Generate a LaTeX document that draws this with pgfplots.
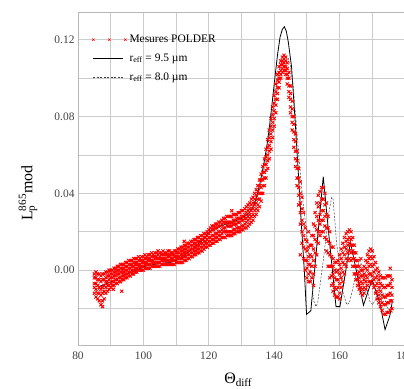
\documentclass[border=0pt]{standalone}
\usepackage{fontspec}
\setmainfont{Liberation Serif}
\usepackage{pgfplots}
\usepackage{pgfplotstable}
\pgfplotsset{compat=1.18}
\pgfplotsset{
  linelegend/.style={legend image code/.code={\draw[##1] (0bp,0bp) -- (30bp,0bp);}},
  threemarks/.style={legend image code/.code={\draw[##1, line width=0.45pt, mark size=1.6pt] plot coordinates {(0bp,0bp) (16bp,0bp) (32bp,0bp)};}},
  polder/.style={only marks, mark=x, mark size=2.2pt, red, line width=0.95pt},
}
\pgfplotstableread{
x y1 y2 y3 y4 y5
85.0 -0.012 -0.009 -0.007 -0.004 -0.002
85.5 -0.014 -0.010 -0.007 -0.004 -0.001
86.0 -0.015 -0.012 -0.008 -0.005 -0.002
86.5 -0.016 -0.012 -0.009 -0.005 -0.002
87.0 -0.018 -0.013 -0.010 -0.006 -0.003
87.5 -0.016 -0.012 -0.009 -0.005 -0.002
88.0 -0.015 -0.011 -0.008 -0.005 -0.002
88.5 -0.012 -0.009 -0.006 -0.004 -0.001
89.0 -0.011 -0.008 -0.006 -0.003 -0.001
89.5 -0.010 -0.008 -0.005 -0.003 0.000
90.0 -0.009 -0.007 -0.004 -0.002 0.000
90.5 -0.008 -0.006 -0.004 -0.002 0.000
91.0 -0.008 -0.006 -0.003 -0.001 0.001
91.5 -0.007 -0.005 -0.003 -0.001 0.001
92.0 -0.007 -0.005 -0.002 0.000 0.002
92.5 -0.006 -0.004 -0.002 0.000 0.002
93.0 -0.006 -0.004 -0.001 0.001 0.003
93.5 -0.005 -0.003 -0.001 0.001 0.003
94.0 -0.005 -0.003 -0.001 0.001 0.003
94.5 -0.004 -0.002 0.000 0.002 0.004
95.0 -0.004 -0.002 0.000 0.002 0.004
95.5 -0.003 -0.001 0.001 0.003 0.005
96.0 -0.003 -0.001 0.001 0.003 0.005
96.5 -0.002 0.000 0.002 0.003 0.005
97.0 -0.002 0.000 0.002 0.004 0.006
97.5 -0.001 0.001 0.003 0.004 0.006
98.0 -0.001 0.001 0.003 0.004 0.006
98.5 0.000 0.002 0.003 0.005 0.007
99.0 0.000 0.002 0.003 0.005 0.006
99.5 0.000 0.002 0.004 0.005 0.007
100.0 0.000 0.002 0.004 0.005 0.007
100.5 0.001 0.003 0.004 0.006 0.008
101.0 0.001 0.003 0.004 0.006 0.007
101.5 0.001 0.003 0.005 0.006 0.008
102.0 0.001 0.003 0.005 0.006 0.008
102.5 0.002 0.004 0.005 0.007 0.009
103.0 0.002 0.004 0.005 0.007 0.008
103.5 0.002 0.004 0.006 0.007 0.009
104.0 0.002 0.004 0.006 0.007 0.009
104.5 0.002 0.004 0.006 0.008 0.010
105.0 0.002 0.004 0.006 0.007 0.009
105.5 0.003 0.005 0.006 0.008 0.009
106.0 0.003 0.005 0.006 0.008 0.010
106.5 0.003 0.005 0.006 0.008 0.009
107.0 0.003 0.005 0.006 0.008 0.009
107.5 0.003 0.005 0.007 0.008 0.010
108.0 0.003 0.005 0.007 0.008 0.010
108.5 0.003 0.005 0.006 0.008 0.009
109.0 0.003 0.005 0.006 0.008 0.009
109.5 0.003 0.005 0.007 0.008 0.010
110.0 0.004 0.006 0.007 0.009 0.010
110.5 0.004 0.006 0.007 0.009 0.011
111.0 0.004 0.006 0.007 0.009 0.011
111.5 0.004 0.006 0.008 0.010 0.012
112.0 0.004 0.006 0.008 0.010 0.012
112.5 0.005 0.007 0.009 0.011 0.013
113.0 0.005 0.007 0.009 0.011 0.013
113.5 0.006 0.008 0.010 0.012 0.014
114.0 0.006 0.008 0.010 0.012 0.014
114.5 0.007 0.009 0.011 0.013 0.015
115.0 0.007 0.009 0.011 0.013 0.015
115.5 0.008 0.010 0.012 0.014 0.016
116.0 0.008 0.010 0.012 0.014 0.016
116.5 0.009 0.011 0.013 0.015 0.017
117.0 0.009 0.011 0.013 0.015 0.017
117.5 0.010 0.012 0.014 0.016 0.018
118.0 0.010 0.012 0.014 0.016 0.018
118.5 0.011 0.013 0.015 0.017 0.019
119.0 0.012 0.014 0.015 0.017 0.019
119.5 0.012 0.014 0.016 0.018 0.020
120.0 0.013 0.015 0.017 0.019 0.021
120.5 0.013 0.015 0.017 0.020 0.022
121.0 0.014 0.016 0.018 0.021 0.023
121.5 0.014 0.016 0.018 0.021 0.023
122.0 0.015 0.017 0.019 0.022 0.024
122.5 0.015 0.017 0.019 0.022 0.024
123.0 0.016 0.018 0.020 0.023 0.025
123.5 0.016 0.018 0.020 0.023 0.025
124.0 0.017 0.019 0.021 0.024 0.026
124.5 0.017 0.020 0.022 0.025 0.027
125.0 0.017 0.020 0.022 0.025 0.027
125.5 0.018 0.020 0.023 0.025 0.028
126.0 0.018 0.020 0.023 0.025 0.028
126.5 0.018 0.020 0.023 0.025 0.028
127.0 0.018 0.020 0.023 0.025 0.028
127.5 0.019 0.021 0.024 0.026 0.029
128.0 0.019 0.021 0.024 0.026 0.029
128.5 0.020 0.022 0.024 0.027 0.029
129.0 0.020 0.022 0.025 0.027 0.030
129.5 0.020 0.022 0.025 0.027 0.030
130.0 0.021 0.023 0.026 0.028 0.031
130.5 0.021 0.023 0.026 0.028 0.031
131.0 0.022 0.024 0.027 0.029 0.032
131.5 0.022 0.025 0.027 0.030 0.033
132.0 0.023 0.026 0.028 0.031 0.034
132.5 0.024 0.027 0.029 0.032 0.035
133.0 0.025 0.028 0.031 0.034 0.037
133.5 0.026 0.029 0.032 0.035 0.038
134.0 0.028 0.031 0.034 0.037 0.040
134.5 0.029 0.032 0.035 0.039 0.042
135.0 0.031 0.034 0.037 0.041 0.044
135.5 0.033 0.037 0.040 0.044 0.047
136.0 0.036 0.040 0.043 0.047 0.050
136.5 0.040 0.044 0.047 0.051 0.054
137.0 0.044 0.048 0.051 0.055 0.058
137.5 0.048 0.052 0.055 0.059 0.063
138.0 0.053 0.057 0.060 0.064 0.068
138.5 0.058 0.062 0.065 0.069 0.073
139.0 0.063 0.067 0.071 0.075 0.079
139.5 0.069 0.073 0.077 0.081 0.085
140.0 0.075 0.079 0.083 0.087 0.091
140.5 0.082 0.086 0.089 0.093 0.097
141.0 0.089 0.092 0.095 0.099 0.102
141.5 0.095 0.098 0.100 0.103 0.106
142.0 0.100 0.102 0.104 0.107 0.109
142.5 0.103 0.105 0.107 0.109 0.111
143.0 0.104 0.106 0.108 0.110 0.112
143.5 0.102 0.104 0.106 0.109 0.111
144.0 0.097 0.100 0.102 0.105 0.108
144.5 0.090 0.093 0.096 0.100 0.103
145.0 0.082 0.085 0.089 0.092 0.096
145.5 0.073 0.077 0.080 0.084 0.088
146.0 0.064 0.068 0.072 0.076 0.080
146.5 0.054 0.058 0.062 0.067 0.071
147.0 0.044 0.048 0.053 0.057 0.062
147.5 0.034 0.039 0.043 0.048 0.053
148.0 0.024 0.030 0.035 0.040 0.046
148.5 0.014 0.020 0.026 0.032 0.038
149.0 0.006 0.012 0.018 0.024 0.030
149.5 0.000 0.005 0.011 0.016 0.022
150.0 -0.004 0.001 0.005 0.010 0.015
150.5 -0.006 -0.002 0.003 0.007 0.012
151.0 -0.006 -0.001 0.003 0.008 0.013
151.5 -0.004 0.002 0.007 0.013 0.018
152.0 -0.002 0.005 0.011 0.018 0.024
152.5 0.002 0.009 0.016 0.023 0.030
153.0 0.008 0.015 0.021 0.028 0.035
153.5 0.014 0.020 0.026 0.033 0.039
154.0 0.018 0.024 0.029 0.035 0.041
154.5 0.020 0.026 0.031 0.037 0.043
155.0 0.020 0.026 0.031 0.037 0.043
155.5 0.017 0.023 0.028 0.034 0.040
156.0 0.010 0.016 0.022 0.029 0.035
156.5 0.002 0.009 0.015 0.022 0.028
157.0 -0.004 0.002 0.008 0.014 0.020
157.5 -0.008 -0.003 0.002 0.007 0.012
158.0 -0.011 -0.007 -0.002 0.002 0.006
158.5 -0.013 -0.009 -0.004 0.000 0.004
159.0 -0.014 -0.010 -0.005 -0.001 0.004
159.5 -0.014 -0.009 -0.005 0.000 0.005
160.0 -0.012 -0.007 -0.002 0.003 0.008
160.5 -0.009 -0.004 0.001 0.006 0.011
161.0 -0.006 -0.001 0.004 0.009 0.014
161.5 -0.002 0.003 0.008 0.012 0.017
162.0 0.002 0.006 0.011 0.015 0.019
162.5 0.005 0.009 0.013 0.016 0.020
163.0 0.006 0.010 0.014 0.017 0.021
163.5 0.005 0.009 0.013 0.016 0.020
164.0 0.002 0.006 0.010 0.013 0.017
164.5 -0.002 0.002 0.006 0.009 0.013
165.0 -0.005 -0.002 0.002 0.005 0.009
165.5 -0.008 -0.005 -0.002 0.002 0.005
166.0 -0.010 -0.007 -0.004 -0.001 0.002
166.5 -0.012 -0.009 -0.006 -0.003 0.000
167.0 -0.013 -0.010 -0.007 -0.003 0.000
167.5 -0.012 -0.009 -0.005 -0.002 0.002
168.0 -0.010 -0.006 -0.003 0.001 0.005
168.5 -0.008 -0.004 0.000 0.004 0.008
169.0 -0.006 -0.002 0.002 0.006 0.010
169.5 -0.006 -0.002 0.003 0.007 0.011
170.0 -0.007 -0.003 0.002 0.006 0.010
170.5 -0.009 -0.005 -0.001 0.003 0.007
171.0 -0.012 -0.008 -0.004 0.000 0.004
171.5 -0.015 -0.011 -0.007 -0.003 0.001
172.0 -0.017 -0.013 -0.009 -0.005 -0.001
172.5 -0.019 -0.015 -0.011 -0.007 -0.003
173.0 -0.021 -0.017 -0.013 -0.008 -0.004
173.5 -0.023 -0.018 -0.014 -0.009 -0.004
174.0 -0.023 -0.018 -0.014 -0.009 -0.004
174.5 -0.022 -0.017 -0.013 -0.008 -0.003
175.0 -0.022 -0.017 -0.013 -0.008 -0.003
175.5 -0.021 -0.016 -0.012 -0.007 -0.003
176.0 -0.020 -0.016 -0.013 -0.009 -0.005
}\polder
\begin{document}
\begin{tikzpicture}
\begin{axis}[
  at={(0,0)}, anchor=south west,
  scale only axis, width=327bp, height=333bp,
  xmin=80, xmax=180, ymin=-0.039, ymax=0.1345,
  xtick={80,100,120,140,160,180},
  xticklabels={80,100,120,140,160,180},
  minor xtick={90,110,130,150,170},
  ytick={0,0.04,0.08,0.12},
  yticklabels={0.00,0.04,0.08,0.12},
  minor ytick={-0.02,0.02,0.06,0.10},
  /pgf/number format/assume math mode=true,
  major tick length=0pt, minor tick length=0pt,
  grid=both,
  major grid style={draw=black!20, line width=0.9pt},
  minor grid style={draw=black!20, line width=0.9pt},
  axis line style={draw=black!28, line width=0.9pt},
  tick label style={font=\fontsize{11.5}{13}\selectfont, text=black!75},
  xticklabel style={yshift=-3bp},
  xlabel={Θ\textsubscript{diff}},
  ylabel={L\rlap{\textsubscript{p}}\textsuperscript{865}mod},
  label style={font=\fontsize{16}{18}\selectfont},
  xlabel style={at={(axis description cs:0.49,-0.117)}, anchor=base},
  ylabel style={at={(axis description cs:-0.153,0.456)}, anchor=center},
  legend cell align=left,
  legend style={draw=none, fill=none, at={(axis description cs:0.043,0.937)}, anchor=north west,
    inner xsep=0pt, inner ysep=0pt, row sep=6bp, column sep=2bp,
    nodes={inner sep=1bp, text height=8bp, text depth=3bp, font=\fontsize{11.5}{13}\selectfont}},
  linelegend,
]
\addplot[polder, threemarks] table[x=x, y=y1] {\polder};
\addlegendentry{Mesures POLDER}
\addplot[polder, forget plot] table[x=x, y=y2] {\polder};
\addplot[polder, forget plot] table[x=x, y=y3] {\polder};
\addplot[polder, forget plot] table[x=x, y=y4] {\polder};
\addplot[polder, forget plot] table[x=x, y=y5] {\polder};
\addplot[polder, forget plot] coordinates {
(90.8,-0.010) (93.4,-0.011) (87.5,-0.019) (112.5,0.015) (127,0.031) (152,-0.008)
(150.5,0.020) (158,0.012) (166.5,0.006) (175.5,0.001) (160,-0.015) (148,0.008)
};
\addplot[black, line width=0.8pt, mark=none] coordinates {
(86.2,-0.0087) (88,-0.0075) (90.8,-0.0056) (93,-0.0035) (95.9,-0.0014) (98,0.0002)
(101,0.0023) (105.1,0.0035) (108.1,0.004) (110.2,0.0052) (113.2,0.0087) (116.3,0.013)
(118,0.0155) (120.4,0.0205) (124.4,0.0235) (127.5,0.0252) (130,0.027) (132.1,0.0295)
(133.6,0.033) (134.6,0.038) (135.5,0.044) (136.2,0.05) (137.0,0.057) (137.7,0.064)
(138.5,0.074) (139.3,0.086) (140.2,0.1) (141,0.112) (141.8,0.1215) (142.5,0.1255)
(143.1,0.1268) (143.7,0.1245) (144.3,0.119) (145.3,0.106) (146.4,0.078) (147.4,0.05)
(148.3,0.024) (149.2,0.000) (149.9,-0.023) (151.2,-0.0212) (155,0.0487) (156.5,0.022)
(158.9,-0.019) (160.1,-0.019) (163.3,0.0146) (167.3,-0.0183) (169.9,-0.005)
(172.3,-0.017) (173.9,-0.031) (175.4,-0.0235) (176.1,-0.0165)
};
\addlegendentry{r\textsubscript{eff} = 9.5 µm}
\addplot[black!75, line width=0.5pt, dash pattern=on 2pt off 1.5pt, mark=none] coordinates {
(84.6,-0.013) (86,-0.0105) (88,-0.0078) (90.8,-0.0058) (93,-0.0036) (95.9,-0.0015)
(98,0.0001) (101,0.0022) (105.1,0.0034) (108.1,0.004) (110.2,0.0051) (113.2,0.0085)
(116.3,0.0128) (118,0.0153) (120.4,0.0203) (124.4,0.0233) (127.5,0.025) (130,0.0268)
(132.1,0.0292) (133.6,0.0325) (134.6,0.037) (135.5,0.042) (136.2,0.047) (137.7,0.061)
(138.5,0.070) (140.2,0.092) (141.5,0.104) (142.5,0.109) (143.5,0.111) (144.3,0.1105)
(144.8,0.108) (145.8,0.096) (146.9,0.073) (147.9,0.052) (148.9,0.034) (149.4,0.027)
(150.9,0.005) (152,-0.0157) (152.8,-0.019) (153.3,-0.017) (155,0.005) (156.8,0.031)
(157.6,0.038) (158.0,0.037) (159.1,0.014) (161.1,-0.012) (162.2,-0.018) (163,-0.017)
(166.2,0.006) (169.3,-0.0165) (170.2,-0.018) (172.5,-0.009) (174.8,-0.02) (176.3,-0.022)
};
\addlegendentry{r\textsubscript{eff} = 8.0 µm}
\end{axis}
\pgfresetboundingbox
\useasboundingbox (-78bp,-44bp) rectangle (326bp,345bp);
\end{tikzpicture}
\end{document}
